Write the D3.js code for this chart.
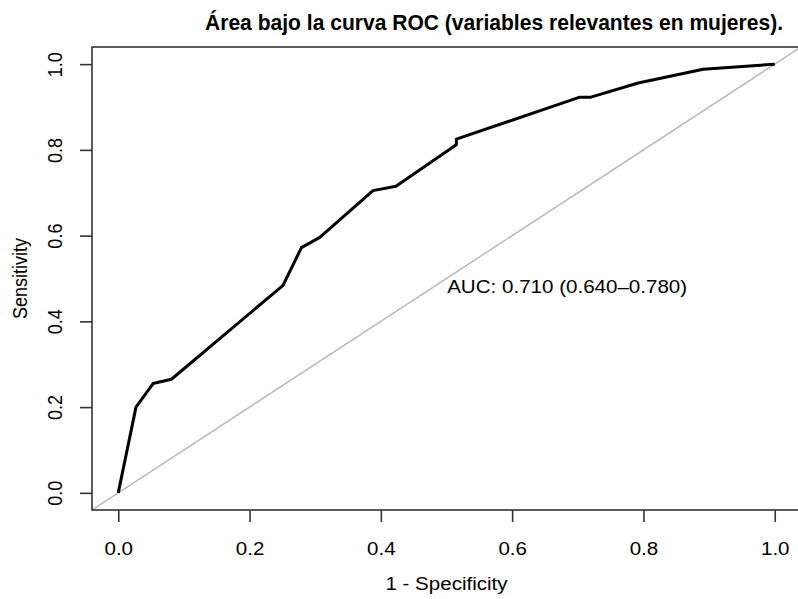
<!DOCTYPE html>
<html>
<head>
<meta charset="utf-8">
<script src="https://cdn.jsdelivr.net/npm/d3@7"></script>
<style>
  html, body { margin: 0; padding: 0; background: #fff; }
  svg { display: block; }
  text { font-family: "Liberation Sans", Arial, Helvetica, sans-serif; fill: #000; }
</style>
</head>
<body>
<svg id="chart" width="798" height="599"></svg>
<script>
// ROC curve points: false positive rate (1 - specificity) and sensitivity
const fpr = [0, 0.027, 0.053, 0.081, 0.251, 0.279, 0.307, 0.388, 0.423, 0.515, 0.515, 0.703, 0.720, 0.792, 0.891, 1.0];
const tpr = [0, 0.200, 0.255, 0.265, 0.484, 0.572, 0.596, 0.705, 0.715, 0.812, 0.825, 0.923, 0.923, 0.956, 0.988, 1.0];
const tickValues = [0, 0.2, 0.4, 0.6, 0.8, 1.0];
const titleText = "Área bajo la curva ROC (variables relevantes en mujeres).";
const xLabel = "1 - Specificity";
const yLabel = "Sensitivity";
const aucText = "AUC: 0.710 (0.640–0.780)";
const aucPos = [0.501, 0.467];

const svg = d3.select("#chart");
const stretch = 1.14; // horizontal aspect of the text rendering

// plot region (R-style 4% padding around [0,1])
const plotL = 92, plotR = 801, plotT = 47, plotB = 510;
const x = d3.scaleLinear().domain([-0.04, 1.04]).range([plotL, plotR]);
const y = d3.scaleLinear().domain([-0.04, 1.04]).range([plotB, plotT]);

svg.append("defs").append("clipPath").attr("id", "plotclip")
  .append("rect").attr("x", plotL).attr("y", plotT)
  .attr("width", plotR - plotL).attr("height", plotB - plotT);

// chance diagonal
svg.append("line")
  .attr("clip-path", "url(#plotclip)")
  .attr("x1", x(-0.04)).attr("y1", y(-0.04))
  .attr("x2", x(1.04)).attr("y2", y(1.04))
  .attr("stroke", "#b5b5b5").attr("stroke-width", 1.4);

// ROC curve
const pts = fpr.map((f, i) => [f, tpr[i]]);
svg.append("path")
  .datum(pts)
  .attr("d", d3.line().x(d => x(d[0])).y(d => y(d[1])))
  .attr("fill", "none").attr("stroke", "#000")
  .attr("stroke-width", 3).attr("stroke-linejoin", "round");

// box
svg.append("rect")
  .attr("x", plotL).attr("y", plotT)
  .attr("width", plotR - plotL).attr("height", plotB - plotT)
  .attr("fill", "none").attr("stroke", "#333").attr("stroke-width", 1.6);

// stretch horizontally-drawn text to the target aspect
function widen(sel) {
  sel.each(function () {
    const w = this.getComputedTextLength();
    d3.select(this).attr("textLength", w * stretch).attr("lengthAdjust", "spacingAndGlyphs");
  });
}

// x axis
const xAxis = svg.append("g")
  .attr("transform", `translate(0,${plotB})`)
  .call(d3.axisBottom(x).tickValues(tickValues).tickSize(12).tickPadding(0)
    .tickFormat(d3.format(".1f")));
xAxis.select(".domain").remove();
xAxis.attr("font-family", null).attr("font-size", null);
xAxis.selectAll(".tick line").attr("stroke", "#333").attr("stroke-width", 1.6);
xAxis.selectAll(".tick text")
  .attr("y", 45).attr("dy", null)
  .style("font-size", "18px")
  .attr("fill", "#000")
  .call(widen);

// y axis
const yAxis = svg.append("g")
  .attr("transform", `translate(${plotL},0)`)
  .call(d3.axisLeft(y).tickValues(tickValues).tickSize(12).tickFormat(d3.format(".1f")));
yAxis.select(".domain").remove();
yAxis.attr("font-family", null).attr("font-size", null);
yAxis.selectAll(".tick line").attr("stroke", "#333").attr("stroke-width", 1.6);
yAxis.selectAll(".tick text").remove();
yAxis.selectAll(".tick").append("text")
  .attr("transform", `translate(-30,0) scale(${stretch},1) rotate(-90)`)
  .attr("text-anchor", "middle")
  .style("font-size", "18px")
  .attr("fill", "#000")
  .text(d => d3.format(".1f")(d));

// axis titles
svg.append("text")
  .attr("x", (plotL + plotR) / 2).attr("y", 590)
  .attr("text-anchor", "middle")
  .style("font-size", "18px")
  .text(xLabel)
  .call(widen);

svg.append("text")
  .attr("transform", `translate(27,${(plotT + plotB) / 2}) scale(${stretch},1) rotate(-90)`)
  .attr("text-anchor", "middle")
  .style("font-size", "18px")
  .text(yLabel);

// title
svg.append("text")
  .attr("x", 205).attr("y", 30)
  .attr("text-anchor", "start")
  .attr("textLength", 578).attr("lengthAdjust", "spacingAndGlyphs")
  .style("font-size", "21.6px").style("font-weight", "bold")
  .text(titleText);

// AUC annotation
svg.append("text")
  .attr("x", x(aucPos[0])).attr("y", y(aucPos[1]))
  .attr("text-anchor", "start")
  .attr("textLength", 240).attr("lengthAdjust", "spacingAndGlyphs")
  .style("font-size", "18px")
  .text(aucText);
</script>
</body>
</html>
